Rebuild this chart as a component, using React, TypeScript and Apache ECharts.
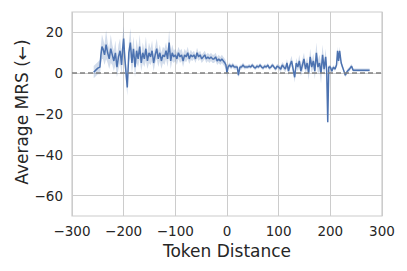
import React, { useEffect, useRef } from "react";
import * as echarts from "echarts";

const tokenDistance = [
  -258, -254, -250, -246, -244, -242, -240, -237, -234, -231, -228, -225, -222, -219, -216, -213, -210, -207, -204, -202,
  -200, -198, -193, -190, -187, -184, -181, -178, -175, -172, -169, -166, -163, -160, -157, -154, -151, -148, -145, -142,
  -139, -136, -133, -130, -127, -124, -121, -118, -115, -112, -109, -106, -103, -100, -97, -94, -91, -88, -85, -82,
  -79, -76, -73, -70, -67, -64, -61, -58, -55, -52, -49, -46, -43, -40, -37, -34, -31, -28, -25, -22,
  -19, -16, -13, -10, -7, -4, -2, 0, 2, 5, 8, 11, 14, 17, 20, 22, 25, 28, 31, 34,
  37, 40, 43, 46, 49, 52, 55, 58, 61, 64, 67, 70, 73, 76, 79, 82, 85, 88, 91, 94,
  97, 100, 104, 107, 110, 113, 116, 119, 122, 125, 128, 131, 134, 137, 140, 143, 146, 149, 152, 155,
  158, 161, 164, 167, 170, 173, 176, 179, 182, 185, 188, 191, 193, 195, 197, 200, 203, 206, 209, 212,
  214, 216, 218, 221, 225, 229, 233, 237, 241, 244, 250, 260, 270, 276,
];

const meanMRS = [
  0.5, 1.5, 2.5, 3, 9, 13, 12, 9, 14, 10, 7, 12, 9, 6, 10, 3, 8, 11, 4, 12,
  17, 8, -7, 10, 15, 5, 12, 3, 11, 7, 13, 5, 10, 7, 12, 6, 10, 8, 11, 5,
  9, 12, 7, 10, 6, 9, 8, 11, 7, 15, 6, 10, 8, 9, 7, 10, 8, 9, 6, 9,
  8, 10, 7, 9, 8, 9, 7, 10, 8, 9, 7, 8, 9, 7, 8, 7, 8, 7, 7, 8,
  6, 7, 6, 7, 6, 5, 4, 0, 3, 4, 3, 4, 3, 3, 3, -1, 3, 3, 4, 3,
  3, 3, 3.5, 3, 4, 3, 2.5, 3.5, 3, 4, 3, 2.5, 3.5, 3, 4, 2.5, 3, 4, 3, 2,
  3.5, 3, 2, 4, 3, 2, 5, 1, 4, 6, 2, -2, 5, 3, 6, 1, 4, 7, 2, 5,
  0, 8, 3, 6, 1, 10, 3, 5, 0, 9, 2, 8, 1, -24, 3, 3, 1, 3, 2, 4,
  11, 6, 11, 5, 2, -1, 1, 2, 3.5, 1.5, 1.5, 1.5, 1.5, 1.5,
];

const ciHalfWidth = [
  3, 3, 3, 3.5, 5, 6, 5, 5, 7, 5, 5, 7, 5, 5, 6, 5, 6, 6, 5, 6,
  6, 5, 4, 5, 7, 5, 6, 5, 6, 4, 6, 4, 5, 4, 6, 4, 5, 4, 5, 4,
  4, 5, 4, 4, 4, 4, 4, 4, 4, 6, 4, 4, 3, 3, 3, 3, 3, 3, 3, 3,
  2.5, 3, 2.5, 2.5, 2, 2, 2, 2.5, 2, 2, 2, 2, 2, 2, 2, 2, 2, 2, 2, 2,
  2, 2, 2, 2, 2, 2, 2, 2, 1.2, 1.2, 1.2, 1.2, 1.2, 1.2, 1.2, 1.2, 1.2, 1.2, 1.2, 1.2,
  1, 1, 1, 1, 1, 1, 1, 1, 1, 1, 1, 1, 1, 1, 1, 1, 1, 1, 1, 1,
  1, 1.2, 1.5, 1.5, 1.5, 1.5, 2, 2, 2, 2.5, 2, 2.5, 2.5, 2, 3, 2.5, 3, 3, 2.5, 3,
  3.5, 4, 3, 3.5, 4, 5, 3.5, 4, 5, 5, 3.5, 4, 3, 1, 1, 1, 1, 1, 1, 1,
  2, 2, 2, 1.5, 1, 1, 1, 1, 1, 0.8, 0.8, 0.8, 0.8, 0.8,
];

const xTicks = [-300, -200, -100, 0, 100, 200, 300];
const yTicks = [-60, -40, -20, 0, 20];
const yAxisTitle = "Average MRS (\u2190)";

const LINE = "#4c72b0";
const TEXT = "#262626";
const GRIDC = "#cccccc";
const FONT = "DejaVu Sans";

const fmt = (v: number) => String(v).replace("-", "\u2212");

export default function App() {
  const ref = useRef<HTMLDivElement>(null);
  useEffect(() => {
    if (!ref.current) return;
    const chart = echarts.init(ref.current, undefined, { renderer: "svg" });
    const line = tokenDistance.map((x, i) => [x, meanMRS[i]]);
    chart.setOption({
      animation: false,
      grid: {
        left: 64,
        right: 25,
        top: 4,
        bottom: 55,
        show: true,
        borderColor: GRIDC,
        borderWidth: 1.2,
        backgroundColor: "transparent",
        containLabel: false,
        outerBoundsMode: "none",
      },
      graphic: [
        {
          type: "text",
          x: 14,
          y: 104,
          rotation: Math.PI / 2,
          silent: true,
          style: {
            text: yAxisTitle,
            fill: TEXT,
            fontFamily: FONT,
            fontSize: 17,
            align: "center",
            verticalAlign: "middle",
          },
        },
      ],
      xAxis: {
        type: "value",
        min: xTicks[0],
        max: xTicks[xTicks.length - 1],
        interval: 100,
        name: "Token Distance",
        nameLocation: "middle",
        nameGap: 23,
        nameTextStyle: { color: TEXT, fontFamily: FONT, fontSize: 17 },
        axisLine: { show: false },
        axisTick: { show: false },
        axisLabel: { color: TEXT, fontFamily: FONT, fontSize: 13.5, margin: 8, formatter: fmt },
        splitLine: { show: true, lineStyle: { color: GRIDC, width: 1 } },
      },
      yAxis: {
        type: "value",
        min: -70,
        max: 30,
        axisLine: { show: false },
        axisTick: { show: false, customValues: yTicks },
        axisLabel: { color: TEXT, fontFamily: FONT, fontSize: 13.5, margin: 9, customValues: yTicks, formatter: fmt },
        splitLine: { show: true, lineStyle: { color: GRIDC, width: 1 } },
      },
      series: [
        {
          type: "custom",
          silent: true,
          data: [0],
          renderItem: (params: any, api: any) => {
            const upper = tokenDistance.map((x, i) => api.coord([x, meanMRS[i] + ciHalfWidth[i]]));
            const lower = tokenDistance.map((x, i) => api.coord([x, meanMRS[i] - ciHalfWidth[i]])).reverse();
            return {
              type: "polygon",
              shape: { points: upper.concat(lower) },
              style: { fill: LINE, opacity: 0.25 },
            };
          },
        },
        {
          type: "line",
          data: line,
          symbol: "none",
          lineStyle: { color: LINE, width: 1.5 },
          markLine: {
            silent: true,
            symbol: "none",
            label: { show: false },
            lineStyle: { color: "#808080", type: [5, 3], width: 1.5 },
            data: [{ yAxis: 0 }],
          },
        },
      ],
    });
    return () => chart.dispose();
  }, []);
  return <div ref={ref} style={{ width: 399, height: 263 }} />;
}
